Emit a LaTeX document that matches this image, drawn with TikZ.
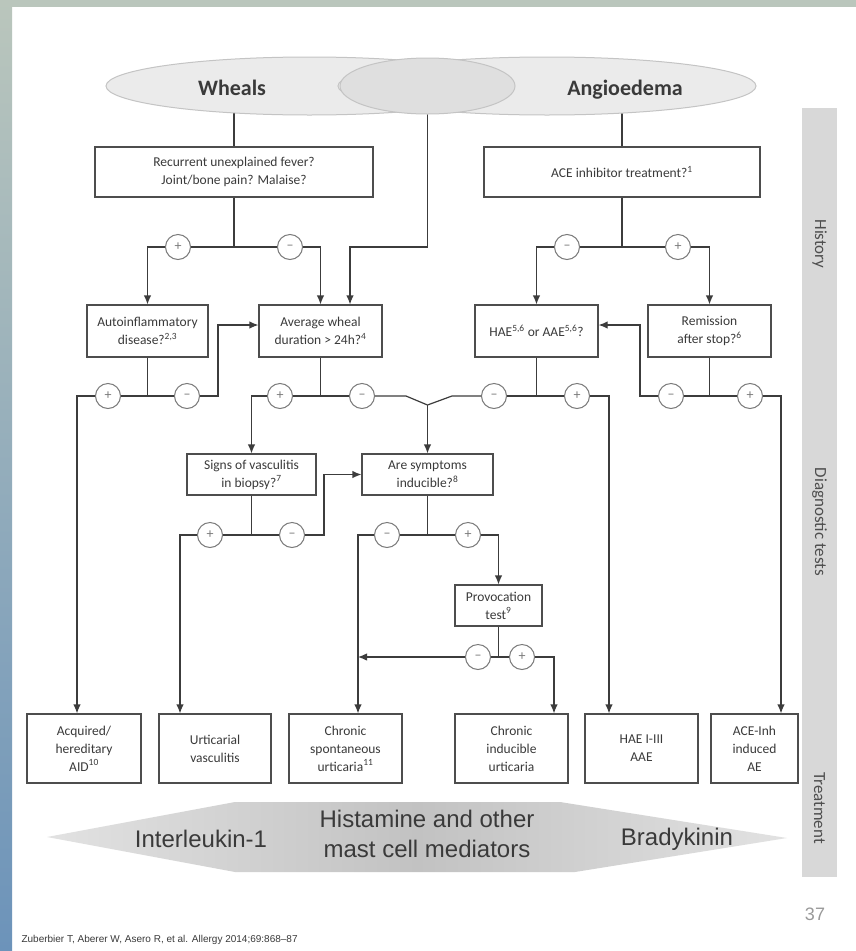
\documentclass[tikz,border=0pt]{standalone}
\usepackage{fontspec}
\setmainfont{Carlito}
\newfontfamily\arialfont{Liberation Sans}
\usepackage{tikz}
\usetikzlibrary{arrows.meta,shapes.geometric,backgrounds}

\definecolor{linegray}{HTML}{3C3C3C}
\definecolor{boxgray}{HTML}{4D4D4D}
\definecolor{textgray}{HTML}{3A3A3A}
\definecolor{signgray}{HTML}{7A7A7A}
\definecolor{ellfill}{HTML}{EBEBEB}
\definecolor{ellline}{HTML}{C4C4C4}
\definecolor{ellmid}{HTML}{DFDFDF}
\definecolor{bargray}{HTML}{D8D8D8}
\definecolor{bandtop}{HTML}{BAC6BC}
\definecolor{bandlow}{HTML}{6C93BA}
\definecolor{arrowmid}{HTML}{C2C2C2}
\definecolor{arrowend}{HTML}{E2E2E2}

\begin{document}
\begin{tikzpicture}[x=1pt,y=-1pt,
    >={Latex[length=9pt,width=7.5pt]},
    box/.style={draw=boxgray,line width=1.2pt,fill=white,align=center,text=textgray,
      inner sep=2pt,font=\fontsize{13.5}{18}\selectfont},
    sign/.style={circle,draw=signgray,fill=white,line width=1pt,minimum size=25pt,
      inner sep=0pt,text=signgray,font=\fontsize{14}{14}\selectfont},
    link/.style={draw=linegray,line width=1.2pt},
    title/.style={anchor=base,text=textgray,font=\bfseries\fontsize{22}{22}\selectfont},
    side/.style={rotate=-90,text=textgray!90,font=\fontsize{17}{17}\selectfont}]
      \useasboundingbox (0,0) rectangle (856,951);
      %% frame bands
      \fill[bandtop] (0,0) rectangle (856,7);
      \shade[top color=bandtop,bottom color=bandlow] (0,0) rectangle (12,951);
      %% top ellipses
      \node[ellipse,draw=ellline,fill=ellfill,line width=1pt,minimum width=407pt,minimum height=58pt] (41) at (309.5,86) {};
      \node[ellipse,draw=ellline,fill=ellfill,line width=1pt,minimum width=418pt,minimum height=58pt] (42) at (547,86) {};
      \node[ellipse,draw=ellline,fill=ellmid,line width=1pt,minimum width=175pt,minimum height=56pt] (43) at (427.5,86) {};
      \node[title] (44) at (232,95) {Wheals};
      \node[title] (45) at (625,95) {Angioedema};
      %% side bar
      \node[fill=bargray,minimum width=35pt,minimum height=769pt,inner sep=0pt] (46) at (819.5,492.5) {};
      \node[side] (47) at (819.5,244) {History};
      \node[side] (48) at (819.5,522) {Diagnostic tests};
      \node[side] (49) at (819.5,808) {Treatment};
      %% question boxes
      \node[box,minimum width=278pt,minimum height=50pt] (1) at (234,172) {Recurrent unexplained fever?\\Joint/bone pain? Malaise?};
      \node[box,minimum width=276pt,minimum height=50pt] (2) at (622,172) {ACE inhibitor treatment?\textsuperscript{1}};
      \node[box,minimum width=121pt,minimum height=52pt] (3) at (147.5,331) {Autoinflammatory\\disease?\textsuperscript{2,3}};
      \node[box,minimum width=123pt,minimum height=52pt] (4) at (320.5,331) {Average wheal\\duration > 24h?\textsuperscript{4}};
      \node[box,minimum width=123pt,minimum height=52pt] (5) at (536.5,331) {HAE\textsuperscript{5,6} or AAE\textsuperscript{5,6}?};
      \node[box,minimum width=123pt,minimum height=52pt] (6) at (709.5,331) {Remission\\after stop?\textsuperscript{6}};
      \node[box,minimum width=129pt,minimum height=41pt] (7) at (251.5,474.5) {Signs of vasculitis\\in biopsy?\textsuperscript{7}};
      \node[box,minimum width=131pt,minimum height=41pt] (8) at (427.5,474.5) {Are symptoms\\inducible?\textsuperscript{8}};
      \node[box,minimum width=87pt,minimum height=41pt] (9) at (498.5,605.5) {Provocation\\test\textsuperscript{9}};
      %% outcome boxes
      \node[box,minimum width=114pt,minimum height=69pt] (10) at (84,748.5) {Acquired/\\hereditary\\AID\textsuperscript{10}};
      \node[box,minimum width=112pt,minimum height=69pt] (11) at (215,748.5) {Urticarial\\vasculitis};
      \node[box,minimum width=113pt,minimum height=69pt] (12) at (345.5,748.5) {Chronic\\spontaneous\\urticaria\textsuperscript{11}};
      \node[box,minimum width=113pt,minimum height=69pt] (13) at (511.5,748.5) {Chronic\\inducible\\urticaria};
      \node[box,minimum width=113pt,minimum height=69pt] (14) at (641.5,748.5) {HAE I-III\\AAE};
      \node[box,minimum width=87pt,minimum height=69pt] (15) at (754.5,748.5) {ACE-Inh\\induced\\AE};
      %% answers
      \node[sign] (21) at (178,247) {+};
      \node[sign] (22) at (290,247) {\textendash};
      \node[sign] (23) at (567,247) {\textendash};
      \node[sign] (24) at (678,247) {+};
      \node[sign] (25) at (108,396) {+};
      \node[sign] (26) at (187,396) {\textendash};
      \node[sign] (27) at (280,396) {+};
      \node[sign] (28) at (362,396) {\textendash};
      \node[sign] (29) at (494,396) {\textendash};
      \node[sign] (30) at (577,396) {+};
      \node[sign] (31) at (671,396) {\textendash};
      \node[sign] (32) at (750,396) {+};
      \node[sign] (33) at (210,535) {+};
      \node[sign] (34) at (292,535) {\textendash};
      \node[sign] (35) at (387,535) {\textendash};
      \node[sign] (36) at (468,535) {+};
      \node[sign] (37) at (478,657) {\textendash};
      \node[sign] (38) at (522,657) {+};
      %% turning points
      \coordinate (t) at (350,247);
      \coordinate (v) at (427.5,405);
      \coordinate (e10) at ([xshift=-7pt]10.north);
      \coordinate (e11) at ([xshift=-35pt]11.north);
      \coordinate (e12) at ([xshift=12.5pt]12.north);
      \coordinate (e13) at ([xshift=42.5pt]13.north);
      \coordinate (e14) at ([xshift=-32.5pt]14.north);
      \coordinate (e15) at ([xshift=26.5pt]15.north);
      %% lines out of the ellipses
      \begin{scope}[on background layer]
        \fill[white] (0,0) rectangle (856,951);
        \draw[link] (1.north) -- (1.north |- 41.center);
        \draw[link] (2.north) -- (2.north |- 42.center);
        \draw[link,->] (43.center) |- (t) -- (t |- 4.north);
      \end{scope}
      %% history
      \draw[link] (1.south) |- (21.east);
      \draw[link] (1.south) |- (22.west);
      \draw[link,->] (21.west) -| (3.north);
      \draw[link,->] (22.east) -| (4.north);
      \draw[link] (2.south) |- (23.east);
      \draw[link] (2.south) |- (24.west);
      \draw[link,->] (23.west) -| (5.north);
      \draw[link,->] (24.east) -| (6.north);
      %% diagnostic tests
      \draw[link] (3.south) |- (25.east);
      \draw[link] (3.south) |- (26.west);
      \draw[link,->] (25.west) -| (e10);
      \draw[link,->] (26.east) -- ++(18,0) |- ([yshift=6pt]4.west);
      \draw[link] (4.south) |- (27.east);
      \draw[link] (4.south) |- (28.west);
      \draw[link,->] (27.west) -| (7.north);
      \draw[link] (28.east) -- ++(31,0) -- (v);
      \draw[link] (29.west) -- ++(-29,0) -- (v);
      \draw[link,->] (v) -- (8.north);
      \draw[link] (5.south) |- (29.east);
      \draw[link] (5.south) |- (30.west);
      \draw[link,->] (30.east) -| (e14);
      \draw[link] (6.south) |- (31.east);
      \draw[link] (6.south) |- (32.west);
      \draw[link,->] (31.west) -- ++(-18,0) |- ([yshift=6pt]5.east);
      \draw[link,->] (32.east) -| (e15);
      \draw[link] (7.south) |- (33.east);
      \draw[link] (7.south) |- (34.west);
      \draw[link,->] (33.west) -| (e11);
      \draw[link,->] (34.east) -- ++(19,0) |- (8.west);
      \draw[link] (8.south) |- (35.east);
      \draw[link] (8.south) |- (36.west);
      \draw[link,->] (35.west) -| (e12);
      \draw[link,->] (36.east) -| (9.north);
      \draw[link] (9.south) |- (37.east);
      \draw[link] (9.south) |- (38.west);
      \draw[link,->] (37.west) -- (37.west -| e12);
      \draw[link,->] (38.east) -| (e13);
      %% treatment arrow
      \shade[left color=arrowend,right color=arrowend,middle color=arrowmid]
        (47,837) -- (235,802) -- (560,802) -- (787,838) -- (575,872) -- (235,872) -- cycle;
      \node[text=textgray,font=\arialfont\fontsize{24}{24}\selectfont] (50) at (201,839) {Interleukin-1};
      \node[text=textgray,align=center,font=\arialfont\fontsize{24}{30}\selectfont] (51) at (427,834) {Histamine and other\\mast cell mediators};
      \node[text=textgray,font=\arialfont\fontsize{24}{24}\selectfont] (52) at (677,839) {Bradykinin};
      %% page number and source
      \node[text=gray!80,font=\arialfont\fontsize{18}{18}\selectfont] (53) at (815,914) {37};
      \node[anchor=west,text=textgray,font=\arialfont\fontsize{10}{10}\selectfont] (54) at (18,940) {Zuberbier T, Aberer W, Asero R, et al. Allergy 2014;69:868–87};
    \end{tikzpicture}
\end{document}
